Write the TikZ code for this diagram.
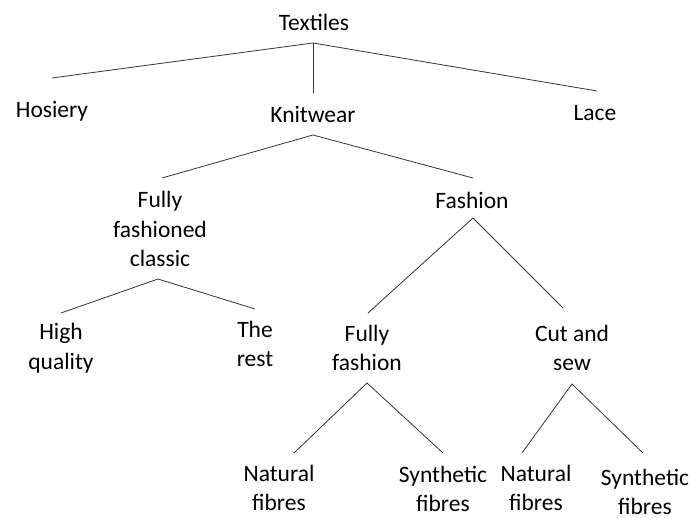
\documentclass[tikz,border=0pt]{standalone}
\usepackage{fontspec}
\setmainfont{Carlito}

\tikzset{
  item/.style={align=center, inner sep=0pt, font=\fontsize{23.5}{29.5}\selectfont},
  branch/.style={black!80, line width=0.8pt}
}

\begin{document}
\begin{tikzpicture}[x=1pt, y=-1pt]

\useasboundingbox (0,0) rectangle (691,518);

\node [item] (textiles) at (314,22) {Textiles};
\node [item] (hosiery) at (52,111) {Hosiery};
\node [item] (knitwear) at (313,115) {Knitwear};
\node [item] (lace) at (595,113) {Lace};
\node [item] (classic) at (160,229) {Fully\\fashioned\\classic};
\node [item] (fashion) at (472,200) {Fashion};
\node [item] (high) at (61,348) {High\\quality};
\node [item] (rest) at (255,344) {The\\rest};
\node [item] (fullyfashion) at (367,348) {Fully\\fashion};
\node [item] (cutsew) at (572,348) {Cut and\\sew};
\node [item] (natural1) at (279,488) {Natural\\fibres};
\node [item] (synthetic1) at (443,489) {Synthetic\\fibres};
\node [item] (natural2) at (536,488) {Natural\\fibres};
\node [item] (synthetic2) at (645,492) {Synthetic\\fibres};

\coordinate (textiles-j) at (313,43);
\coordinate (hosiery-e) at (52,78);
\coordinate (knitwear-e) at (313,93);
\coordinate (lace-e) at (597,91);
\coordinate (knitwear-j) at (313,135);
\coordinate (classic-e) at (162,178);
\coordinate (fashion-e) at (473,178);
\coordinate (classic-j) at (158,279);
\coordinate (high-e) at (61,313);
\coordinate (rest-e) at (255,309);
\coordinate (fashion-j) at (473,218);
\coordinate (fullyfashion-e) at (368,313);
\coordinate (cutsew-e) at (563,308);
\coordinate (fullyfashion-j) at (367,383);
\coordinate (natural1-e) at (294,453);
\coordinate (synthetic1-e) at (443,453);
\coordinate (cutsew-j) at (572,384);
\coordinate (natural2-e) at (522,453);
\coordinate (synthetic2-e) at (643,453);

\draw [branch] (hosiery-e) -- (textiles-j) -- (lace-e);
\draw [branch] (textiles-j) -- (knitwear-e);
\draw [branch] (classic-e) -- (knitwear-j) -- (fashion-e);
\draw [branch] (high-e) -- (classic-j) -- (rest-e);
\draw [branch] (fullyfashion-e) -- (fashion-j) -- (cutsew-e);
\draw [branch] (natural1-e) -- (fullyfashion-j) -- (synthetic1-e);
\draw [branch] (natural2-e) -- (cutsew-j) -- (synthetic2-e);

\end{tikzpicture}
\end{document}
